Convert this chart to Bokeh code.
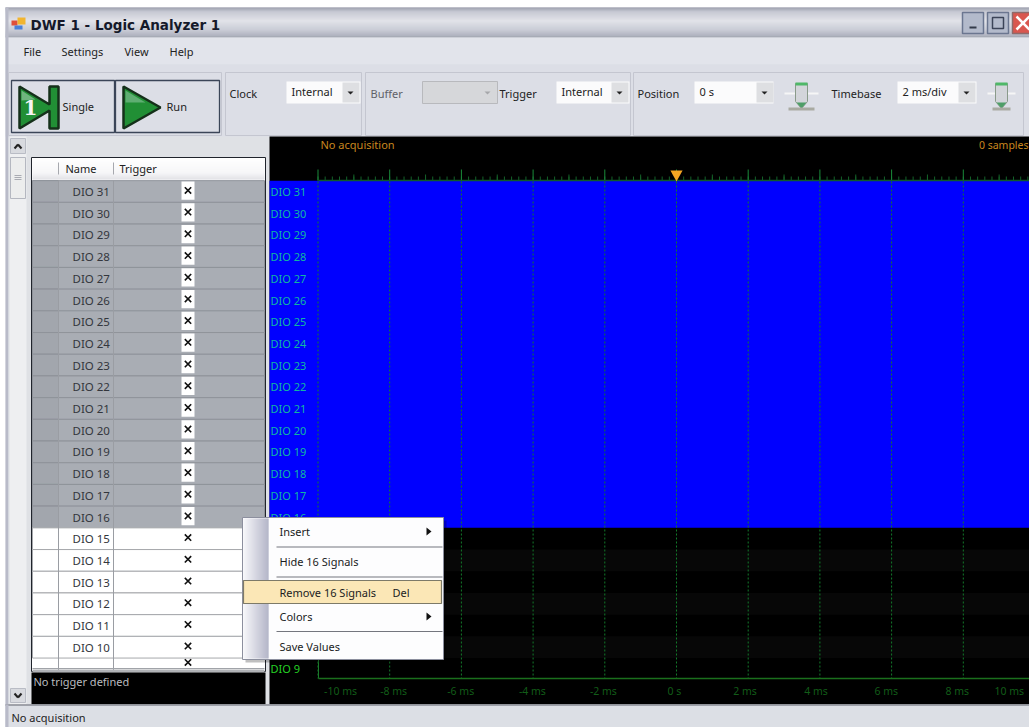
from bokeh.plotting import figure
from bokeh.models import Range1d
from bokeh.core.properties import value
from bokeh.embed import file_html
from bokeh.resources import INLINE

# ---- chart content -------------------------------------------------
title_text = "DWF 1 - Logic Analyzer 1"
menu_names = ["File", "Settings", "View", "Help"]
selected_signals = [31, 30, 29, 28, 27, 26, 25, 24, 23, 22, 21, 20, 19, 18, 17, 16]
plain_signals = [15, 14, 13, 12, 11, 10]
visible_plot_labels = [31, 30, 29, 28, 27, 26, 25, 24, 23, 22, 21, 20, 19, 18, 17, 16, 9]
major_ms = [-10, -8, -6, -4, -2, 0, 2, 4, 6, 8, 10]
tick_labels = ["-10 ms", "-8 ms", "-6 ms", "-4 ms", "-2 ms", "0 s", "2 ms", "4 ms", "6 ms", "8 ms", "10 ms"]
label_ms = [-9.37, -7.89, -6.02, -4.02, -2.04, -0.06, 1.91, 3.89, 5.85, 7.83, 9.28]
menu_items = ["Insert", "Hide 16 Signals", "Remove 16 Signals", "Colors", "Save Values"]
trigger_ms = 0

SANS = "Noto Sans"
W, H = 1029, 727
p = figure(width=W, height=H, x_range=Range1d(0, W), y_range=Range1d(H, 0),
           output_backend="svg", toolbar_location=None, x_axis_type=None, y_axis_type=None,
           min_border=0, outline_line_color=None, background_fill_color="white",
           border_fill_color="white")
p.grid.visible = False
p.extra_x_ranges["time"] = Range1d((0 - 676) / 35.85, (W - 676) / 35.85)
p.extra_y_ranges["row"] = Range1d(31 - (H - 191) / 21.7, 31 + 191 / 21.7)


def rect(x0, y0, x1, y1, fill, line=None, lw=1, **kw):
    return p.quad(left=[x0], right=[x1], top=[y0], bottom=[y1], fill_color=fill,
                  line_color=line, line_width=lw, **kw)


def hex2(c):
    return [int(c[i:i + 2], 16) for i in (1, 3, 5)]


def vgrad(x0, x1, stops):
    for (y0, c0), (y1, c1) in zip(stops, stops[1:]):
        a, b = hex2(c0), hex2(c1)
        for y in range(y0, y1):
            t = (y - y0) / max(1, y1 - y0)
            col = "#%02x%02x%02x" % tuple(int(a[i] + (b[i] - a[i]) * t) for i in range(3))
            rect(x0, y, x1, y + 1, col)


def hgrad(y0, y1, x0, x1, c0, c1):
    a, b = hex2(c0), hex2(c1)
    for x in range(x0, x1):
        t = (x - x0) / (x1 - x0)
        col = "#%02x%02x%02x" % tuple(int(a[i] + (b[i] - a[i]) * t) for i in range(3))
        rect(x, y0, x + 1, y1, col)


def lbl(x, y, t, color="#222222", size=11, font=SANS, style="normal", align="left", **kw):
    p.text(x=[x], y=[y], text=[t], text_color=color, text_font=value(font),
           text_font_size=f"{size}px", text_font_style=style, text_align=align,
           text_baseline="middle", **kw)


def line(x0, y0, x1, y1, color, lw=1, dash="solid", **kw):
    p.line(x=[x0, x1], y=[y0, y1], line_color=color, line_width=lw, line_dash=dash, **kw)


def combo(x0, x1, text, arrow_x, y0=81, y1=103):
    rect(x0, y0, x1, y1, "#fbfbfc")
    rect(arrow_x - 8, y0 + 1, arrow_x + 9, y1 - 1, "#dedfe2")
    lbl(x0 + 5, 91, text)
    p.patch([arrow_x - 3, arrow_x + 3, arrow_x], [91, 91, 94], fill_color="#222222", line_color=None)


def slider(cx, hw, bar_hw):
    line(cx - hw, 93, cx + hw, 93, "#f6f6f6", 2)
    p.patch([cx - 6, cx + 6, cx + 6, cx, cx - 6], [83, 83, 101, 108, 101],
            fill_color="#d3d5da", line_color="#8a9a8a")
    rect(cx - 6, 82, cx + 6, 85, "#4fb868")
    p.patch([cx - 5, cx, cx + 5], [102, 108, 102], fill_color="#4f9e68", line_color=None)
    rect(cx - bar_hw, 107, cx + bar_hw, 110, "#a9aaa2")


# ---- window frame ---------------------------------------------------
rect(5, 7, W, H, "#dde0e7")
vgrad(5, W, [(7, "#8d8fa0"), (11, "#c0c2cd"), (20, "#e3e4ea"), (29, "#c4c6d1"), (35, "#a0a3b2"), (37, "#80838f")])
rect(5, 37, W, 64, "#e2e4eb")
rect(5, 64, W, 136, "#dcdee6")
rect(5, 7, 8, H, "#b9bbc9")

# title icon + text
rect(11, 20, 17, 25, "#e0503a")
rect(17, 17, 25, 24, "#f2b530")
rect(14, 25, 22, 29, "#4a80d8")
lbl(30, 24, title_text, "#15192a", 13.5, "DejaVu Sans", "bold")
# window buttons
for x0, x1 in ((962, 983), (987, 1008)):
    p.quad(left=[x0], right=[x1], top=[12], bottom=[33], fill_color="#b3bacb",
           line_color="#6b7690", line_width=1.5)
rect(969, 26, 976, 28, "#333a4a")
rect(992, 17, 1003, 28, None, "#3c4458", 1.5)
p.quad(left=[1012], right=[1032], top=[12], bottom=[33], fill_color="#d9574f",
       line_color="#8f6a6a", line_width=1.5)
line(1016, 16, 1029, 29, "white", 2.5)
line(1016, 29, 1029, 16, "white", 2.5)

# menus
for name, x in zip(menu_names, (23, 61, 124, 169)):
    lbl(x, 51, name)

# toolbar groups
for x0, x1 in ((8, 221), (225, 361), (365, 630), (633, 1023)):
    p.quad(left=[x0], right=[x1], top=[72], bottom=[135], fill_color="#dcdee6",
           line_color="#c4c6d0", line_width=1)
for x0, x1 in ((11, 114), (115, 219)):
    rect(x0, 80, x1, 132, "#dcdee6", "#3b4558", 1.3)
# single icon
p.patch([19, 49, 49, 58, 58, 49, 49, 19], [86, 104, 86, 86, 128, 128, 110, 128],
        fill_color="#218f35", line_color="#15301a", line_width=2.5)
p.patch([21, 35, 21], [90, 99, 100], fill_color="#6fb57e", line_color=None)
lbl(30, 107, "1", "#f4f4f4", 20, "DejaVu Serif", "bold", "center")
lbl(62, 106, "Single")
# run icon
p.patch([123, 160, 123], [86, 107, 128], fill_color="#218f35", line_color="#15301a", line_width=2.5)
p.patch([125, 145, 125], [90, 102, 102], fill_color="#5fae72", line_color=None)
lbl(166, 106, "Run")

lbl(229, 93, "Clock")
combo(286, 360, "Internal", 350)
lbl(370, 93, "Buffer", "#5f6168")
rect(422, 81, 497, 103, "#d6d7da", "#b8b9bd")
p.patch([484, 490, 487], [91, 91, 94], fill_color="#a6a7aa", line_color=None)
lbl(499, 93, "Trigger")
combo(556, 629, "Internal", 619)
lbl(637, 93, "Position")
combo(694, 773, "0 s", 764)
slider(801, 17, 13)
lbl(831, 93, "Timebase")
combo(897, 976, "2 ms/div", 966)
slider(1001, 14, 9)

# ---- left panel -----------------------------------------------------
rect(8, 136, 269, 705, "#dfe1e5")
rect(9, 136, 26, 705, "#eeeff1")
rect(10, 138, 25, 153, "#d8dadf", "#b9bcc5")
line(14, 148, 17.5, 144, "#222222", 2); line(17.5, 144, 21, 148, "#222222", 2)
rect(10, 157, 25, 198, "#eceded", "#b4b7c0")
for yy in (175, 177, 179):
    line(14, yy, 21, yy, "#a9abb2")
rect(10, 688, 25, 702, "#d8dadf", "#b9bcc5")
line(14, 693, 17.5, 697, "#222222", 2); line(17.5, 697, 21, 693, "#222222", 2)

rect(31, 157, 265, 671, "#ffffff", "#20242c", 1)
vgrad(32, 264, [(158, "#ffffff"), (172, "#f4f4f6"), (179, "#d8d9de")])
line(58, 162, 58, 174, "#a6a8ae")
line(113, 162, 113, 174, "#a6a8ae")
lbl(65, 168, "Name", size=11)
lbl(119, 168, "Trigger", size=11)

for n in selected_signals:
    p.quad(left=[32], right=[264], top=[n + 0.5], bottom=[n - 0.5], y_range_name="row",
           fill_color="#a9adb4", line_color="#8f939a")
    p.quad(left=[32], right=[58], top=[n + 0.5], bottom=[n - 0.5], y_range_name="row",
           fill_color="#a2a6ad", line_color="#8f939a")
    p.quad(left=[181], right=[194], top=[n + 0.46], bottom=[n - 0.38], y_range_name="row",
           fill_color="#ffffff", line_color=None)
for n in plain_signals:
    p.quad(left=[32], right=[264], top=[n + 0.5], bottom=[n - 0.5], y_range_name="row",
           fill_color="#ffffff", line_color="#a6a8ac")
line(58, 180, 58, 670, "#9a9da3")
line(113, 180, 113, 670, "#9a9da3")
line(32, 668, 264, 668, "#a0a3a8")
rect(32, 669, 264, 672, "#b0b2b6")

for n in selected_signals + plain_signals:
    p.text(x=[72], y=[n], y_range_name="row", text=[f"DIO {n}"], text_color="#33363c",
           text_font=value(SANS), text_font_size="11.5px", text_baseline="middle")
    p.scatter(x=[187.5], y=[n + 0.05], y_range_name="row", marker="x", size=9,
              line_color="#111111", line_width=1.6)
p.scatter(x=[187.5], y=[9.3], y_range_name="row", marker="x", size=9, line_color="#111111", line_width=1.6)

rect(31, 672, 265, 704, "#000000")
lbl(33, 681, "No trigger defined", "#b9bbbf", 11)

# ---- logic analyzer plot -------------------------------------------
rect(269, 136, W, 704, "#000000")
lbl(320, 144, "No acquisition", "#c8871f", 11)
lbl(1028, 144, "0 samples", "#c8871f", 10.5, align="right")

# selected rows and faint row bands
p.quad(left=[269], right=[W], top=[max(selected_signals) + 0.5], bottom=[min(selected_signals) - 0.5],
       y_range_name="row", fill_color="#0000ff", line_color=None)
for n in plain_signals + [9]:
    if n % 2 == 0:
        p.quad(left=[318], right=[W], top=[n + 0.5], bottom=[n - 0.5], y_range_name="row",
               fill_color="#070707", line_color=None)

# ruler
minor = [m / 5 for m in range(-50, 51)]
p.segment(x0=minor, x1=minor, y0=[176] * len(minor), y1=[180] * len(minor), x_range_name="time",
          line_color="#146228", line_width=1)
half = [m + 1 for m in major_ms[:-1]]
p.segment(x0=half, x1=half, y0=[174] * len(half), y1=[180] * len(half), x_range_name="time",
          line_color="#146228", line_width=1)
p.segment(x0=major_ms, x1=major_ms, y0=[169] * len(major_ms), y1=[180] * len(major_ms), x_range_name="time",
          line_color="#1a8a3a", line_width=1)
line(318, 180, W, 180, "#0f5a2a", 1.5)

# dashed time grid
p.segment(x0=major_ms, x1=major_ms, y0=[181] * len(major_ms), y1=[678] * len(major_ms), x_range_name="time",
          line_color="#127a2a", line_width=1, line_dash="2 2")
line(318, 528, 318, 678, "#1a7a2a", 1)
line(318, 678, W, 678, "#1a6f1c", 1.5)
p.patch([trigger_ms - 0.17, trigger_ms + 0.17, trigger_ms], [170, 170, 181], x_range_name="time",
        fill_color="#f5a623", line_color=None)

for n in visible_plot_labels:
    col = "#10b8a0" if n in selected_signals else "#25d125"
    p.text(x=[270], y=[n], y_range_name="row", text=[f"DIO {n}"], text_color=col,
           text_font=value(SANS), text_font_size="11px", text_baseline="middle")
p.text(x=label_ms, y=[690] * len(label_ms), text=tick_labels, x_range_name="time",
       text_color="#125c18", text_font=value(SANS), text_font_size="10.5px",
       text_align="center", text_baseline="middle")

# ---- context menu ---------------------------------------------------
rect(245, 520, 446, 662, "#000000", fill_alpha=0.25)
rect(242, 517, 443, 659, "#fdfdfe", "#8c8f9e")
hgrad(518, 658, 243, 268, "#f4f4f8", "#9b9db5")
for yy in (546.5, 576.5, 631):
    line(276, yy, 442, yy, "#74767e", 1.2)
rect(243, 580, 441, 603, "#fbe7b6", "#7d7a68", 1.2)
item_y = [531, 561, 592, 616, 646]
for t, yy in zip(menu_items, item_y):
    lbl(279, yy, t, "#1a1c22", 11)
lbl(392, 592, "Del", "#1a1c22", 11)
for yy in (531, 616):
    p.patch([426, 426, 431], [527, 535, 531] if yy == 531 else [612, 620, 616],
            fill_color="#111111", line_color=None)

# status bar
rect(5, 704, W, H, "#dcdfe5")
line(5, 704.5, W, 704.5, "#8a8d95", 1.5)
rect(5, 704, 8, H, "#b9bbc9")
lbl(11, 717, "No acquisition", "#222222", 11)

open("out.html", "w").write(file_html(p, INLINE))
